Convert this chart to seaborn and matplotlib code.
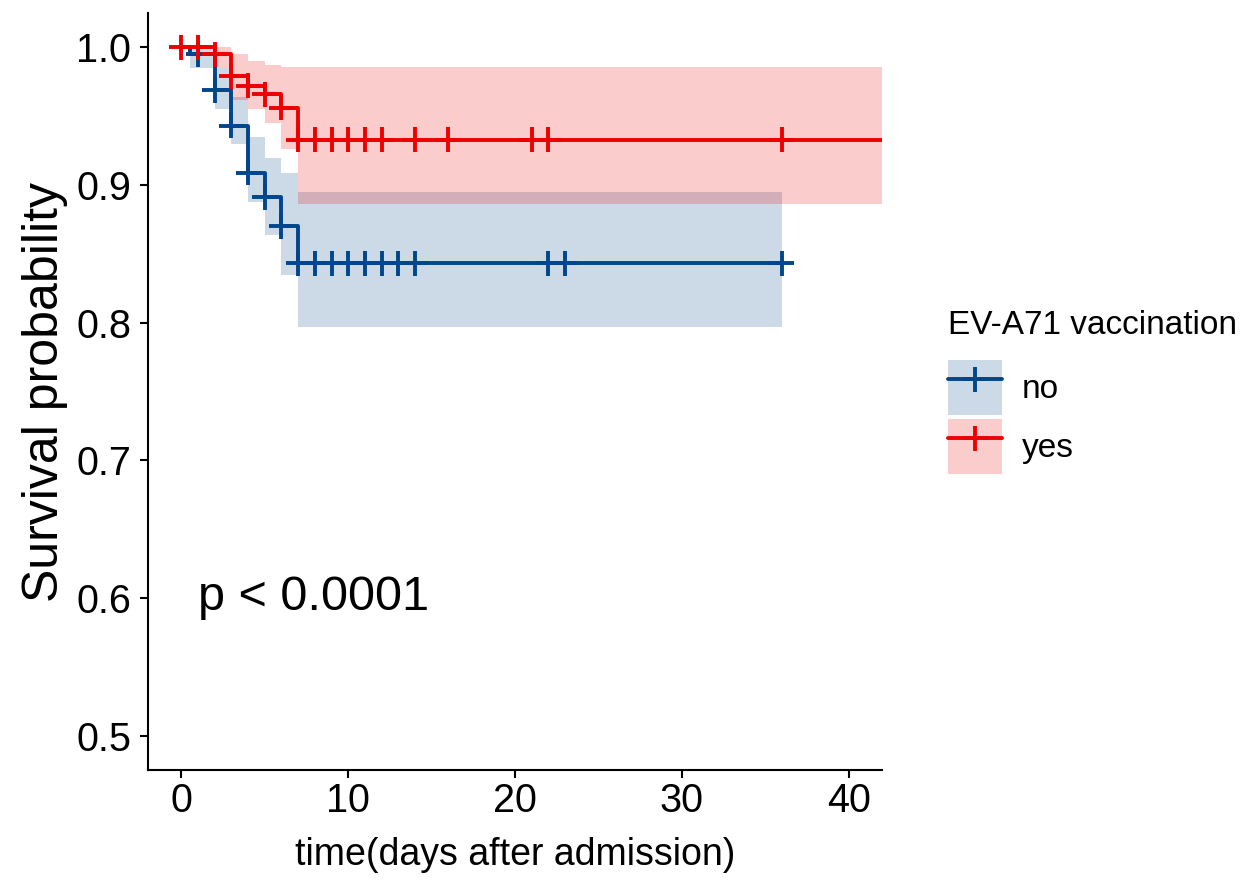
import numpy as np
import pandas as pd
import matplotlib
matplotlib.use("Agg")
import matplotlib.pyplot as plt
import seaborn as sns
from matplotlib.patches import Patch
from matplotlib.lines import Line2D

# ---------------- data ----------------
groups = ["no", "yes"]
colors = {"no": "#00468B", "yes": "#ED0000"}

no_time = [0, 0.5, 2, 3, 4, 5, 6, 7, 36]
no_surv = [1.0, 0.995, 0.969, 0.943, 0.909, 0.891, 0.870, 0.843, 0.843]
no_lower = [1.0, 0.985, 0.955, 0.930, 0.888, 0.864, 0.835, 0.797, 0.797]
no_upper = [1.0, 1.0, 0.985, 0.964, 0.935, 0.920, 0.909, 0.895, 0.895]
no_cens_time = [1, 2, 3, 4, 5, 6, 7, 8, 9, 10, 11, 12, 13, 14, 22, 23, 36]
no_cens_surv = [0.995, 0.969, 0.943, 0.909, 0.891, 0.870,
                0.843, 0.843, 0.843, 0.843, 0.843, 0.843, 0.843, 0.843,
                0.843, 0.843, 0.843]

yes_time = [0, 2, 3, 4, 5, 6, 7, 42]
yes_surv = [1.0, 0.995, 0.979, 0.972, 0.966, 0.956, 0.933, 0.933]
yes_lower = [1.0, 0.985, 0.962, 0.955, 0.945, 0.926, 0.886, 0.886]
yes_upper = [1.0, 1.0, 0.995, 0.990, 0.987, 0.986, 0.986, 0.986]
yes_cens_time = [0, 1, 2, 3, 4, 5, 6, 7, 8, 9, 10, 11, 12, 14, 16, 21, 22, 36]
yes_cens_surv = [1.0, 1.0, 0.995, 0.979, 0.972, 0.966, 0.956,
                 0.933, 0.933, 0.933, 0.933, 0.933, 0.933, 0.933, 0.933,
                 0.933, 0.933, 0.933]

legend_title = "EV-A71 vaccination"
pval_text = "p < 0.0001"
x_ticks = [0, 10, 20, 30, 40]
y_ticks = [0.5, 0.6, 0.7, 0.8, 0.9, 1.0]

# ---------------- tables ----------------
curve_df = pd.concat([
    pd.DataFrame({"time": no_time, "surv": no_surv, "lower": no_lower,
                  "upper": no_upper, "group": "no"}),
    pd.DataFrame({"time": yes_time, "surv": yes_surv, "lower": yes_lower,
                  "upper": yes_upper, "group": "yes"}),
], ignore_index=True)
cens_df = pd.concat([
    pd.DataFrame({"time": no_cens_time, "surv": no_cens_surv, "group": "no"}),
    pd.DataFrame({"time": yes_cens_time, "surv": yes_cens_surv, "group": "yes"}),
], ignore_index=True)

# ---------------- style ----------------
sns.set_theme(style="white")
plt.rcParams["font.family"] = ["Liberation Sans", "DejaVu Sans"]

fig = plt.figure(figsize=(12.5, 8.82), dpi=100)
ax = fig.add_axes([148 / 1250, 1 - 770 / 882, (882 - 148) / 1250, (770 - 13) / 882])

lw = 2.8
mew = 2.8
msize = 18

# confidence bands
for g in groups:
    d = curve_df[curve_df.group == g]
    ax.fill_between(d["time"], d["lower"], d["upper"], step="post",
                    color=colors[g], alpha=0.2, linewidth=0)

# survival curves
sns.lineplot(data=curve_df, x="time", y="surv", hue="group", hue_order=groups,
             palette=colors, drawstyle="steps-post", estimator=None,
             linewidth=lw, legend=False, ax=ax)

# censoring marks
sns.scatterplot(data=cens_df, x="time", y="surv", hue="group", hue_order=groups,
                palette=colors, marker="+", s=msize ** 2, linewidth=mew,
                legend=False, ax=ax, zorder=3)

ax.text(1.0, 0.6, pval_text, fontsize=35, ha="left", va="center", color="black")

ax.set_xlim(-2, 42)
ax.set_ylim(0.475, 1.025)
ax.set_xticks(x_ticks)
ax.set_yticks(y_ticks)
ax.set_yticklabels([f"{v:.1f}" for v in y_ticks])
ax.set_xlabel("time(days after admission)", fontsize=27, labelpad=12, color="black")
ax.set_ylabel("Survival probability", fontsize=36, labelpad=6, color="black")
ax.tick_params(axis="both", labelsize=28.5, colors="black", length=6, width=1.5,
               direction="out", left=True, bottom=True)
ax.tick_params(axis="y", pad=6)
ax.tick_params(axis="x", pad=3)
sns.despine(ax=ax)
for s in ["left", "bottom"]:
    ax.spines[s].set_color("black")
    ax.spines[s].set_linewidth(1.5)

# legend
handles = []
for g in groups:
    patch = Patch(facecolor=colors[g], alpha=0.2, edgecolor="none")
    line = Line2D([], [], color=colors[g], lw=lw, marker="+", markersize=msize,
                  markeredgewidth=mew)
    handles.append((patch, line))
leg = fig.legend(handles, groups, title=legend_title, loc="center left",
                 bbox_to_anchor=(948 / 1250, 1 - 392 / 882), frameon=False,
                 fontsize=24, title_fontsize=24, handlelength=1.62,
                 handleheight=2.16, labelspacing=0.12, handletextpad=0.6,
                 borderpad=0, borderaxespad=0, alignment="left",
                 labelcolor="black")
leg.get_title().set_color("black")
leg._legend_box.sep = 14

fig.savefig("out.png", dpi=100)
